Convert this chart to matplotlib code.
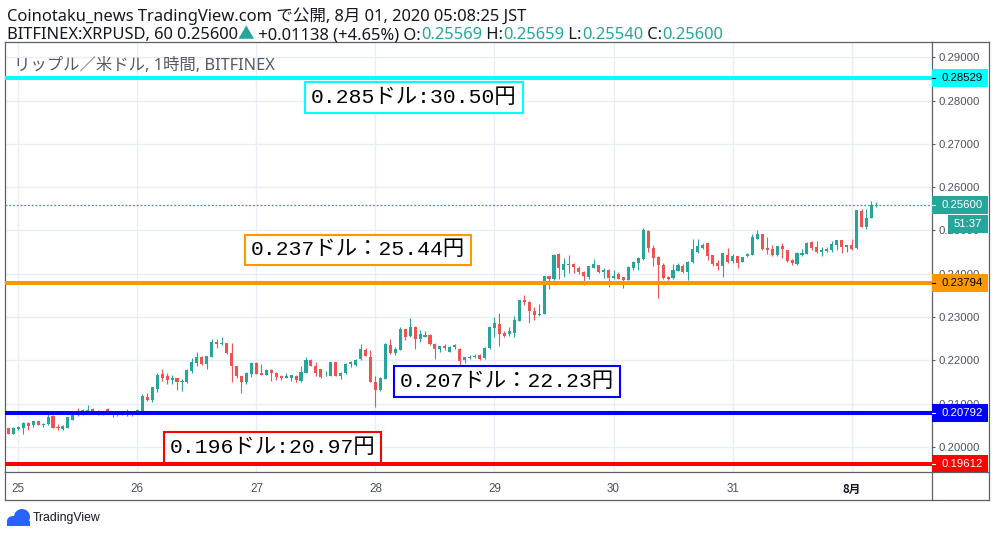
import matplotlib
matplotlib.use("Agg")
import matplotlib.pyplot as plt
import numpy as np
from matplotlib.transforms import blended_transform_factory
from matplotlib.patches import Rectangle, Ellipse
from matplotlib.lines import Line2D

plt.rcParams['font.family'] = ['Noto Sans', 'Noto Sans CJK JP', 'DejaVu Sans']

# ---------------- data ----------------
hours = list(range(-2, 174))  # hours since 25 Jul 00:00 (JST)

opens = [
    0.2043, 0.2031, 0.2041, 0.2045, 0.2056, 0.2050, 0.2060, 0.2051, 0.2052, 0.2072,
    0.2046, 0.2042, 0.2045, 0.2063, 0.2080, 0.2075, 0.2082, 0.2087, 0.2083, 0.2082,
    0.2088, 0.2076, 0.2080, 0.2074, 0.2079, 0.2073, 0.2077, 0.2083, 0.2116, 0.2109,
    0.2135, 0.2169, 0.2163, 0.2155, 0.2159, 0.2149, 0.2149, 0.2176, 0.2195, 0.2208,
    0.2192, 0.2209, 0.2243, 0.2239, 0.2240, 0.2217, 0.2187, 0.2164, 0.2149, 0.2169,
    0.2195, 0.2172, 0.2167, 0.2178, 0.2172, 0.2164, 0.2160, 0.2160, 0.2165, 0.2152,
    0.2172, 0.2201, 0.2188, 0.2180, 0.2164, 0.2164, 0.2196, 0.2164, 0.2170, 0.2191,
    0.2190, 0.2203, 0.2225, 0.2209, 0.2151, 0.2132, 0.2157, 0.2236, 0.2218, 0.2225,
    0.2272, 0.2256, 0.2278, 0.2249, 0.2255, 0.2259, 0.2239, 0.2226, 0.2233, 0.2220,
    0.2231, 0.2226, 0.2200, 0.2205, 0.2208, 0.2212, 0.2205, 0.2228, 0.2274, 0.2283,
    0.2263, 0.2260, 0.2264, 0.2292, 0.2339, 0.2336, 0.2315, 0.2305, 0.2308, 0.2395,
    0.2387, 0.2446, 0.2409, 0.2420, 0.2423, 0.2414, 0.2405, 0.2393, 0.2414, 0.2420,
    0.2403, 0.2409, 0.2390, 0.2399, 0.2392, 0.2386, 0.2414, 0.2426, 0.2434, 0.2499,
    0.2460, 0.2439, 0.2420, 0.2393, 0.2390, 0.2407, 0.2418, 0.2405, 0.2428, 0.2451,
    0.2460, 0.2470, 0.2443, 0.2426, 0.2418, 0.2443, 0.2430, 0.2441, 0.2428, 0.2440,
    0.2444, 0.2481, 0.2492, 0.2460, 0.2457, 0.2443, 0.2464, 0.2455, 0.2433, 0.2422,
    0.2444, 0.2446, 0.2474, 0.2463, 0.2451, 0.2453, 0.2456, 0.2467, 0.2478, 0.2461,
    0.2466, 0.2459, 0.2545, 0.2508, 0.2530, 0.25569,
]
highs = [
    0.2045, 0.2047, 0.2049, 0.2057, 0.2058, 0.2061, 0.2061, 0.2055, 0.2077, 0.2075,
    0.2052, 0.2051, 0.2070, 0.2081, 0.2089, 0.2088, 0.2097, 0.2090, 0.2085, 0.2084,
    0.2089, 0.2083, 0.2082, 0.2079, 0.2087, 0.2078, 0.2087, 0.2123, 0.2125, 0.2139,
    0.2172, 0.2180, 0.2172, 0.2166, 0.2160, 0.2158, 0.2179, 0.2206, 0.2219, 0.2210,
    0.2211, 0.2249, 0.2249, 0.2254, 0.2241, 0.2241, 0.2188, 0.2165, 0.2173, 0.2197,
    0.2197, 0.2192, 0.2179, 0.2179, 0.2173, 0.2167, 0.2171, 0.2167, 0.2166, 0.2186,
    0.2209, 0.2204, 0.2196, 0.2181, 0.2176, 0.2197, 0.2197, 0.2173, 0.2193, 0.2198,
    0.2203, 0.2237, 0.2228, 0.2224, 0.2164, 0.2162, 0.2240, 0.2249, 0.2230, 0.2278,
    0.2273, 0.2299, 0.2279, 0.2270, 0.2269, 0.2260, 0.2240, 0.2234, 0.2239, 0.2233,
    0.2239, 0.2228, 0.2209, 0.2212, 0.2214, 0.2214, 0.2230, 0.2277, 0.2301, 0.2310,
    0.2269, 0.2276, 0.2303, 0.2340, 0.2351, 0.2337, 0.2324, 0.2330, 0.2396, 0.2396,
    0.2446, 0.2447, 0.2436, 0.2443, 0.2424, 0.2419, 0.2406, 0.2419, 0.2434, 0.2421,
    0.2413, 0.2410, 0.2409, 0.2403, 0.2393, 0.2418, 0.2429, 0.2438, 0.2505, 0.2500,
    0.2467, 0.2440, 0.2424, 0.2394, 0.2423, 0.2426, 0.2422, 0.2429, 0.2480, 0.2480,
    0.2472, 0.2471, 0.2444, 0.2432, 0.2448, 0.2459, 0.2445, 0.2442, 0.2439, 0.2449,
    0.2491, 0.2501, 0.2493, 0.2484, 0.2467, 0.2465, 0.2470, 0.2456, 0.2434, 0.2450,
    0.2457, 0.2473, 0.2475, 0.2475, 0.2461, 0.2461, 0.2476, 0.2479, 0.2479, 0.2467,
    0.2481, 0.2548, 0.2550, 0.2549, 0.2568, 0.25659,
]
lows = [
    0.2029, 0.2030, 0.2039, 0.2031, 0.2039, 0.2046, 0.2050, 0.2046, 0.2051, 0.2044,
    0.2039, 0.2039, 0.2044, 0.2062, 0.2072, 0.2074, 0.2081, 0.2082, 0.2073, 0.2073,
    0.2076, 0.2070, 0.2072, 0.2073, 0.2072, 0.2071, 0.2076, 0.2082, 0.2106, 0.2105,
    0.2126, 0.2153, 0.2145, 0.2145, 0.2131, 0.2129, 0.2148, 0.2172, 0.2188, 0.2190,
    0.2181, 0.2208, 0.2229, 0.2235, 0.2215, 0.2149, 0.2160, 0.2124, 0.2145, 0.2162,
    0.2168, 0.2166, 0.2166, 0.2153, 0.2155, 0.2155, 0.2159, 0.2152, 0.2151, 0.2151,
    0.2171, 0.2187, 0.2165, 0.2160, 0.2163, 0.2163, 0.2163, 0.2158, 0.2168, 0.2185,
    0.2186, 0.2202, 0.2210, 0.2149, 0.2093, 0.2130, 0.2156, 0.2215, 0.2213, 0.2224,
    0.2247, 0.2255, 0.2226, 0.2243, 0.2254, 0.2235, 0.2204, 0.2219, 0.2224, 0.2219,
    0.2227, 0.2190, 0.2193, 0.2203, 0.2205, 0.2200, 0.2204, 0.2227, 0.2255, 0.2233,
    0.2253, 0.2257, 0.2255, 0.2291, 0.2328, 0.2287, 0.2293, 0.2303, 0.2307, 0.2366,
    0.2386, 0.2387, 0.2393, 0.2401, 0.2401, 0.2399, 0.2374, 0.2388, 0.2413, 0.2402,
    0.2390, 0.2370, 0.2387, 0.2387, 0.2368, 0.2385, 0.2409, 0.2409, 0.2431, 0.2451,
    0.2419, 0.2343, 0.2389, 0.2386, 0.2389, 0.2406, 0.2402, 0.2386, 0.2424, 0.2449,
    0.2458, 0.2432, 0.2419, 0.2409, 0.2393, 0.2424, 0.2426, 0.2414, 0.2427, 0.2439,
    0.2443, 0.2480, 0.2456, 0.2445, 0.2441, 0.2442, 0.2436, 0.2428, 0.2420, 0.2421,
    0.2441, 0.2445, 0.2455, 0.2449, 0.2442, 0.2450, 0.2450, 0.2455, 0.2449, 0.2451,
    0.2456, 0.2458, 0.2507, 0.2503, 0.2529, 0.25540,
]
closes = [
    0.2031, 0.2045, 0.2046, 0.2056, 0.2049, 0.2060, 0.2051, 0.2054, 0.2069, 0.2045,
    0.2043, 0.2048, 0.2069, 0.2079, 0.2074, 0.2086, 0.2085, 0.2083, 0.2078, 0.2077,
    0.2077, 0.2081, 0.2074, 0.2077, 0.2073, 0.2077, 0.2085, 0.2118, 0.2109, 0.2138,
    0.2166, 0.2159, 0.2155, 0.2159, 0.2149, 0.2152, 0.2178, 0.2196, 0.2207, 0.2192,
    0.2210, 0.2243, 0.2238, 0.2240, 0.2216, 0.2186, 0.2165, 0.2151, 0.2172, 0.2195,
    0.2169, 0.2167, 0.2178, 0.2172, 0.2162, 0.2160, 0.2165, 0.2166, 0.2155, 0.2173,
    0.2201, 0.2188, 0.2172, 0.2162, 0.2165, 0.2196, 0.2164, 0.2172, 0.2192, 0.2197,
    0.2202, 0.2226, 0.2211, 0.2151, 0.2132, 0.2159, 0.2237, 0.2216, 0.2226, 0.2272,
    0.2255, 0.2276, 0.2249, 0.2261, 0.2259, 0.2239, 0.2226, 0.2233, 0.2229, 0.2232,
    0.2235, 0.2199, 0.2207, 0.2209, 0.2210, 0.2204, 0.2229, 0.2276, 0.2286, 0.2262,
    0.2257, 0.2268, 0.2293, 0.2339, 0.2335, 0.2313, 0.2305, 0.2308, 0.2395, 0.2387,
    0.2443, 0.2413, 0.2423, 0.2423, 0.2415, 0.2403, 0.2396, 0.2418, 0.2422, 0.2403,
    0.2409, 0.2391, 0.2395, 0.2388, 0.2386, 0.2416, 0.2428, 0.2437, 0.2501, 0.2460,
    0.2437, 0.2420, 0.2391, 0.2388, 0.2409, 0.2420, 0.2403, 0.2428, 0.2457, 0.2464,
    0.2467, 0.2442, 0.2422, 0.2419, 0.2447, 0.2428, 0.2441, 0.2424, 0.2438, 0.2446,
    0.2484, 0.2492, 0.2457, 0.2455, 0.2443, 0.2464, 0.2457, 0.2430, 0.2424, 0.2449,
    0.2449, 0.2472, 0.2459, 0.2450, 0.2455, 0.2458, 0.2469, 0.2478, 0.2461, 0.2466,
    0.2457, 0.2547, 0.2509, 0.2530, 0.2560, 0.25600,
]

day_hours = [0, 24, 48, 72, 96, 120, 144, 168]
day_labels = ['25', '26', '27', '28', '29', '30', '31', '8月']
price_ticks = [0.20, 0.21, 0.22, 0.23, 0.24, 0.25, 0.26, 0.27, 0.28, 0.29]
price_tick_labels = ['0.20000', '0.21000', '0.22000', '0.23000', '0.24000',
                     '0.25000', '0.26000', '0.27000', '0.28000', '0.29000']

level_values = [0.28529, 0.23794, 0.20792, 0.19612]
level_labels = ['0.28529', '0.23794', '0.20792', '0.19612']
level_colors = ['#00ffff', '#ff9800', '#0000ff', '#ff0000']
level_text_colors = ['#000000', '#000000', '#ffffff', '#ffffff']

note_texts = ['0.285ドル:30.50円', '0.237ドル：25.44円', '0.207ドル：22.23円', '0.196ドル:20.97円']
note_x = [79.8, 68.5, 98.45, 51.3]
note_y = [0.28072, 0.24550, 0.21513, 0.19988]
note_colors = ['#00ffff', '#ff9800', '#0000ff', '#ff0000']

last_label = '0.25600'
countdown = '51:37'

header1 = 'Coinotaku_news TradingView.com で公開, 8月 01, 2020 05:08:25 JST'
header2 = [('BITFINEX:XRPUSD, 60 0.25600', 'dark'), ('▲', 'up'),
           (' +0.01138 (+4.65%) O:', 'dark'), ('0.25569', 'up'),
           (' H:', 'dark'), ('0.25659', 'up'), (' L:', 'dark'), ('0.25540', 'up'),
           (' C:', 'dark'), ('0.25600', 'up')]
subtitle = 'リップル／米ドル, 1時間, BITFINEX'

UP = '#26a69a'
DOWN = '#ef5350'
DARK = '#131722'
FRAME = '#5d606b'
GRID = '#e8eef3'
LATIN_CJK = ['Noto Sans', 'Noto Sans CJK JP', 'DejaVu Sans']

W, H = 996, 537
fig = plt.figure(figsize=(W / 100, H / 100), dpi=100)
fig.patch.set_facecolor('white')

def fx(px):
    return px / W

def fy(py):
    return 1 - py / H

ax_left, ax_right, ax_top, ax_bottom = 5, 931.7, 42, 472
ax = fig.add_axes([fx(ax_left), fy(ax_bottom), (ax_right - ax_left) / W, (ax_bottom - ax_top) / H])
ax.set_xlim(-2.68, 184.15)
ax.set_ylim(0.194226, 0.293533)

# grid / ticks
ax.set_xticks(day_hours)
ax.set_xticklabels(day_labels)
ax.set_yticks(price_ticks)
ax.set_yticklabels(price_tick_labels)
ax.grid(True, color=GRID, lw=1.0, zorder=0)
ax.set_axisbelow(True)
ax.yaxis.tick_right()
ax.tick_params(axis='y', length=2.5, width=0.8, color=FRAME, pad=2.2, labelsize=8.2,
               labelcolor='#4c525e', labelfontfamily='Liberation Sans')
ax.tick_params(axis='x', length=0, pad=8, labelsize=8.4, labelcolor='#4c525e',
               labelfontfamily='Liberation Sans')
lastlab = ax.get_xticklabels()[-1]
lastlab.set_fontweight('bold')
lastlab.set_fontfamily(['Noto Sans CJK JP'])
lastlab.set_color(DARK)
for s in ax.spines.values():
    s.set_color(FRAME)
    s.set_linewidth(0.9)

# candles
o = np.array(opens); c = np.array(closes); hi = np.array(highs); lo = np.array(lows)
cols = [UP if cc >= oo else DOWN for oo, cc in zip(opens, closes)]
ax.vlines(hours, lo, hi, colors=cols, lw=0.8, zorder=3)
body_h = np.maximum(np.abs(c - o), 0.00006)
ax.bar(hours, body_h, bottom=np.minimum(o, c), width=0.62, color=cols, lw=0, zorder=3)

# horizontal levels
for v, col in zip(level_values, level_colors):
    ax.axhline(v, color=col, lw=2.9, zorder=4)
ax.axhline(closes[-1], color=UP, lw=0.9, ls=(0, (1.5, 1.5)), zorder=4)

# annotations
for t, xx, yy, col in zip(note_texts, note_x, note_y, note_colors):
    ax.text(xx, yy, t, ha='center', va='center', fontsize=15.4, color='black',
            family=['Liberation Mono', 'Noto Sans CJK JP', 'DejaVu Sans'], zorder=6,
            bbox=dict(boxstyle='square,pad=0.27', fc='white', ec=col, lw=1.5))

# price tags on right axis
blend = blended_transform_factory(ax.transAxes, ax.transData)
ppx = (0.293533 - 0.194226) / (ax_bottom - ax_top)  # price per pixel
tag_w = (988 - ax_right) / (ax_right - ax_left)
tag_h = 18 * ppx

def tag(value, label, bg, fg, x0=1.0, w=tag_w, dash=True):
    ax.add_patch(Rectangle((x0, value - tag_h / 2), w, tag_h, transform=blend,
                           fc=bg, ec='none', clip_on=False, zorder=7))
    ax.text(x0 + w / 2 + (0.002 if dash else 0), value, label, transform=blend, ha='center',
            va='center', fontsize=8.2, color=fg, family='Liberation Sans',
            clip_on=False, zorder=8)
    if dash:
        ax.add_line(Line2D([1.0, 1.0 + 3.5 / (ax_right - ax_left)], [value, value],
                           transform=blend, color=fg, lw=0.8, clip_on=False, zorder=8))

for v, lab, bg, fg in zip(level_values, level_labels, level_colors, level_text_colors):
    tag(v, lab, bg, fg)
tag(closes[-1], last_label, UP, 'white')
tag(closes[-1] - 19.3 * ppx, countdown, UP, 'white',
    x0=1.0 + (947.7 - ax_right) / (ax_right - ax_left),
    w=(988 - 947.7) / (ax_right - ax_left), dash=False)

# outer frame
def fline(x0, y0, x1, y1):
    fig.add_artist(Line2D([fx(x0), fx(x1)], [fy(y0), fy(y1)], transform=fig.transFigure,
                          color=FRAME, lw=0.9))

fline(ax_right, ax_top, 989, ax_top)
fline(989, ax_top, 989, 500)
fline(ax_left, 500, 989, 500)
fline(ax_left, ax_bottom, ax_left, 500)
fline(ax_right, ax_bottom, ax_right, 500)
fline(ax_right, ax_bottom, 989, ax_bottom)

# header text
hfont = dict(fontsize=11.9, family=LATIN_CJK)
fig.text(fx(7), fy(25), header1, color=DARK, va='bottom', ha='left', **hfont)
prev = fig.text(fx(7), fy(43), header2[0][0], color=DARK, va='bottom', ha='left', **hfont)
for txt, kind in header2[1:]:
    prev = ax.annotate(txt, xy=(1, 0), xycoords=prev, va='bottom', ha='left',
                       color=UP if kind == 'up' else DARK, annotation_clip=False, **hfont)

fig.text(fx(14), fy(69.5), subtitle, color='#555a64', va='baseline', ha='left',
         fontsize=11.8, family=LATIN_CJK)

# TradingView logo
logo_col = '#2962ff'
fig.add_artist(Ellipse((fx(13), fy(521)), 12 / W, 10 / H, transform=fig.transFigure,
                       fc=logo_col, ec='none'))
fig.add_artist(Ellipse((fx(22), fy(517)), 16 / W, 16 / H, transform=fig.transFigure,
                       fc=logo_col, ec='none'))
fig.add_artist(Rectangle((fx(7), fy(526)), 23 / W, 5 / H, transform=fig.transFigure,
                         fc=logo_col, ec='none'))
fig.text(fx(33), fy(518.5), 'TradingView', color=DARK, va='center', ha='left',
         fontsize=8.8, family='Liberation Sans')

fig.savefig('out.png', dpi=100, facecolor='white')
